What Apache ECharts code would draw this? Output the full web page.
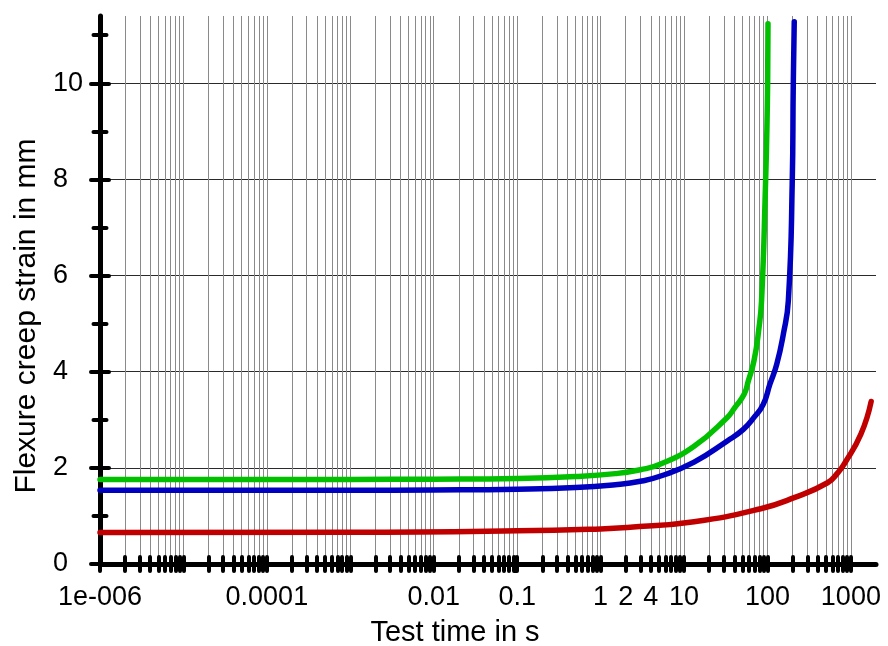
<!DOCTYPE html>
<html>
<head>
<meta charset="utf-8">
<title>Flexure creep strain</title>
<script src="https://cdn.jsdelivr.net/npm/echarts@6/dist/echarts.min.js"></script>
<style>
  html, body { margin: 0; padding: 0; background: #fff; }
  #chart { width: 888px; height: 646px; }
</style>
</head>
<body>
<div id="chart"></div>
<script>
// values (time in s, strain in mm)
var greenTime = [1e-6, 1e-3, 0.01, 0.1, 0.5, 1.5, 3, 5.25, 13.2, 33, 40.8, 52.5, 59, 69, 79, 85, 93.6, 100.5, 101.5];
var greenStrain = [1.76, 1.76, 1.765, 1.78, 1.82, 1.88, 1.96, 2.08, 2.45, 3.05, 3.26, 3.53, 3.81, 4.23, 4.9, 5.48, 7.56, 10.0, 11.24];

var blueTime = [1e-6, 1e-3, 0.01, 0.1, 0.5, 1.5, 3, 5.25, 13.2, 33, 51.4, 69, 89, 107, 129, 155, 178, 198, 204, 209.5];
var blueStrain = [1.535, 1.535, 1.54, 1.555, 1.59, 1.65, 1.72, 1.83, 2.12, 2.56, 2.80, 3.05, 3.32, 3.74, 4.15, 4.78, 5.48, 7.9, 10.0, 11.28];

var redTime = [1e-6, 1e-3, 0.1, 1, 2.09, 13.2, 83, 209, 525, 700, 832, 1318, 1750];
var redStrain = [0.655, 0.66, 0.69, 0.73, 0.76, 0.88, 1.15, 1.38, 1.69, 1.90, 2.08, 2.70, 3.38];

// axis ticks and labels
var xDecades = [1e-6, 1e-5, 1e-4, 1e-3, 0.01, 0.1, 1, 10, 100, 1000];
var xMinorSteps = [1, 2, 3, 4, 5, 6, 7, 8, 9];
var xLabelTimes = [1e-6, 1e-4, 0.01, 0.1, 1, 2, 4, 10, 100, 1000];
var xLabelTexts = ['1e-006', '0.0001', '0.01', '0.1', '1', '2', '4', '10', '100', '1000'];
var yMajor = [0, 2, 4, 6, 8, 10];
var yMinor = [1, 3, 5, 7, 9, 11];

var xMin = Math.log10(1e-6);
var xMax = Math.log10(2000);
var yMax = 11.4;

var xTickVals = [];
xDecades.forEach(function (d) {
  xMinorSteps.forEach(function (m) {
    if (d === 1000 && m > 1) return;
    xTickVals.push(Math.log10(d * m));
  });
});
var xLabelVals = xLabelTimes.map(function (t) { return Math.log10(t); });

function toPairs(times, vals) {
  return times.map(function (t, i) { return [Math.log10(t), vals[i]]; });
}

var chart = echarts.init(document.getElementById('chart'));

var tickStyle = { color: '#000', width: 4, cap: 'round' };
var font = 'Liberation Sans, Arial, sans-serif';

function xAx(inside, main) {
  return {
    type: 'value', min: xMin, max: xMax, position: 'bottom',
    axisLine: { show: main, onZero: false, lineStyle: { color: '#000', width: 5, cap: 'round' } },
    axisTick: { show: true, inside: inside, length: 7, customValues: xTickVals, lineStyle: tickStyle },
    axisLabel: main ? {
      show: true, customValues: xLabelVals, margin: 20, color: '#000', fontSize: 27, fontFamily: font,
      formatter: function (v) {
        for (var i = 0; i < xLabelVals.length; i++) {
          if (Math.abs(xLabelVals[i] - v) < 1e-6) return xLabelTexts[i];
        }
        return '';
      }
    } : { show: false },
    splitLine: { show: main, lineStyle: { color: '#8a8a8a', width: 1 } },
    name: main ? 'Test time in s' : '',
    nameLocation: 'middle', nameGap: 54,
    nameTextStyle: { color: '#000', fontSize: 29, fontFamily: font, padding: [0, 66, 0, 0] }
  };
}

function yAx(inside, vals, len, main) {
  return {
    type: 'value', min: 0, max: yMax, position: 'left',
    axisLine: { show: main, onZero: false, lineStyle: { color: '#000', width: 5, cap: 'round' } },
    axisTick: { show: true, inside: inside, length: len, customValues: vals, lineStyle: tickStyle },
    axisLabel: main ? {
      show: true, customValues: yMajor, margin: 47, align: 'left', color: '#000', fontSize: 27, fontFamily: font
    } : { show: false },
    splitLine: { show: main, lineStyle: { color: '#2a2a2a', width: 1 } },
    name: main ? 'Flexure creep strain in mm' : '',
    nameLocation: 'middle', nameGap: 56, nameRotate: 90,
    nameTextStyle: { color: '#000', fontSize: 30, fontFamily: font, padding: [0, 52, 0, 0] }
  };
}

function curve(times, vals, color) {
  return {
    type: 'line', data: toPairs(times, vals), showSymbol: false, symbol: 'none',
    smooth: 0.5,
    lineStyle: { color: color, width: 5.5, cap: 'round', join: 'round' },
    itemStyle: { color: color }
  };
}

var option = {
  backgroundColor: '#fff',
  animation: false,
  grid: { left: 100, right: 12, top: 16, bottom: 82, outerBoundsMode: 'none' },
  xAxis: [xAx(false, true), xAx(true, false)],
  yAxis: [yAx(false, yMajor, 9, true), yAx(true, yMajor, 9, false),
          yAx(false, yMinor, 6.5, false), yAx(true, yMinor, 6.5, false)],
  series: [
    curve(redTime, redStrain, '#c00000'),
    curve(blueTime, blueStrain, '#0000c0'),
    curve(greenTime, greenStrain, '#00c000')
  ]
};

chart.setOption(option);

window.onresize = () => {
  chart.resize();
}
</script>
</body>
</html>
